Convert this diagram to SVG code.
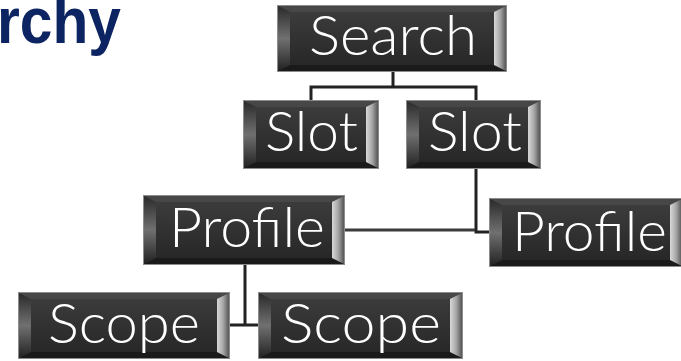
<svg xmlns="http://www.w3.org/2000/svg" width="681" height="361" viewBox="0 0 681 361">
<defs>
<linearGradient id="face" x1="0" y1="0" x2="0" y2="1">
<stop offset="0" stop-color="#3e3e3e"/><stop offset="1" stop-color="#252525"/>
</linearGradient>
<linearGradient id="lb" x1="0" y1="0" x2="0" y2="1">
<stop offset="0" stop-color="#2a2a2a"/><stop offset="0.5" stop-color="#707070"/><stop offset="1" stop-color="#222"/>
</linearGradient>
<linearGradient id="rb" x1="0" y1="0" x2="1" y2="0">
<stop offset="0" stop-color="#d8d8d8"/><stop offset="0.5" stop-color="#a8a8a8"/><stop offset="1" stop-color="#555"/>
</linearGradient>
<style>
.o{stroke:#8c8c8c;stroke-width:1;fill:url(#face)}
.l{fill:url(#lb)}
.r{fill:url(#rb)}
.t{fill:#474747}
.b{fill:#1a1a1a}
.tx{fill:#fff;font-family:Lato,"Open Sans","Liberation Sans",sans-serif;font-weight:300;font-size:55px}
.c{fill:none;stroke:#222;stroke-width:3}
</style>
</defs>
<text x="-3" y="43" font-family="'Liberation Sans',Arial,sans-serif" font-weight="bold" font-size="64" fill="#0c2461" textLength="124" lengthAdjust="spacingAndGlyphs">rchy</text>
<g id="connectors">
<path class="c" d="M393 72V87M311 101V87H476V101"/>
<path class="c" d="M476 169V232H489"/>
<path class="c" d="M345 230H475" style="stroke:#3c3c3c"/>
<path class="c" d="M245 265V325M230 325H258"/>
</g>
<g id="search">
<rect class="o" x="277.5" y="5.5" width="229" height="66"/>
<polygon class="t" points="278,6 506,6 494,12 290,12"/>
<polygon class="b" points="278,71 506,71 494,65 290,65"/>
<polygon class="l" points="278,6 290,12 290,65 278,71"/>
<polygon class="r" points="494,12 506,6 506,71 494,65"/>
<text class="tx" x="309" y="55" textLength="168" lengthAdjust="spacingAndGlyphs">Search</text>
</g>
<g id="slot1">
<rect class="o" x="243.5" y="100.5" width="135" height="68"/>
<polygon class="t" points="244,101 378,101 366,107 256,107"/>
<polygon class="b" points="244,168 378,168 366,162 256,162"/>
<polygon class="l" points="244,101 256,107 256,162 244,168"/>
<polygon class="r" points="366,107 378,101 378,168 366,162"/>
<text class="tx" x="265" y="151" textLength="93" lengthAdjust="spacingAndGlyphs">Slot</text>
</g>
<g id="slot2">
<rect class="o" x="406.5" y="100.5" width="134" height="68"/>
<polygon class="t" points="407,101 540,101 528,107 419,107"/>
<polygon class="b" points="407,168 540,168 528,162 419,162"/>
<polygon class="l" points="407,101 419,107 419,162 407,168"/>
<polygon class="r" points="528,107 540,101 540,168 528,162"/>
<text class="tx" x="428" y="151" textLength="94" lengthAdjust="spacingAndGlyphs">Slot</text>
</g>
<g id="profile1">
<rect class="o" x="143.5" y="195.5" width="201" height="69"/>
<polygon class="t" points="144,196 344,196 332,202 156,202"/>
<polygon class="b" points="144,264 344,264 332,258 156,258"/>
<polygon class="l" points="144,196 156,202 156,258 144,264"/>
<polygon class="r" points="332,202 344,196 344,264 332,258"/>
<text class="tx" x="169" y="247" textLength="156" lengthAdjust="spacingAndGlyphs">Profile</text>
</g>
<g id="profile2">
<rect class="o" x="489.5" y="198.5" width="193" height="68"/>
<polygon class="t" points="490,199 682,199 670,205 502,205"/>
<polygon class="b" points="490,266 682,266 670,260 502,260"/>
<polygon class="l" points="490,199 502,205 502,260 490,266"/>
<polygon class="r" points="670,205 682,199 682,266 670,260"/>
<text class="tx" x="512" y="251" textLength="155" lengthAdjust="spacingAndGlyphs">Profile</text>
</g>
<g id="scope1">
<rect class="o" x="18.5" y="292.5" width="211" height="66"/>
<polygon class="t" points="19,293 229,293 217,299 31,299"/>
<polygon class="b" points="19,358 229,358 217,352 31,352"/>
<polygon class="l" points="19,293 31,299 31,352 19,358"/>
<polygon class="r" points="217,299 229,293 229,358 217,352"/>
<text class="tx" x="48" y="343" textLength="152" lengthAdjust="spacingAndGlyphs">Scope</text>
</g>
<g id="scope2">
<rect class="o" x="258.5" y="292.5" width="204" height="66"/>
<polygon class="t" points="259,293 462,293 450,299 271,299"/>
<polygon class="b" points="259,358 462,358 450,352 271,352"/>
<polygon class="l" points="259,293 271,299 271,352 259,358"/>
<polygon class="r" points="450,299 462,293 462,358 450,352"/>
<text class="tx" x="281" y="343" textLength="160" lengthAdjust="spacingAndGlyphs">Scope</text>
</g>
</svg>
